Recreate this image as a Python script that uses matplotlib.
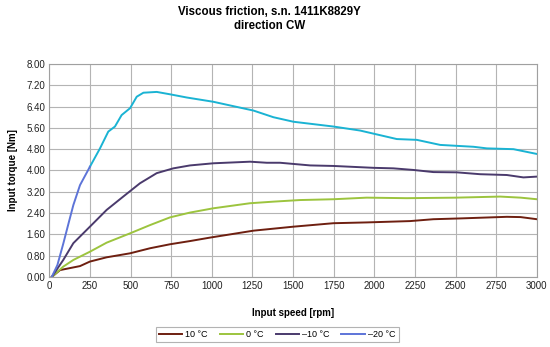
# Viscous friction curves, s.n. 1411K8829Y, direction CW

import matplotlib
matplotlib.use("Agg")
import matplotlib.pyplot as plt
import numpy as np

plt.rcParams["font.family"] = ["Liberation Sans", "DejaVu Sans"]

# readings (rpm, Nm)
speed_10 = [15, 66, 148, 189, 250, 353, 497, 620, 743, 866, 989, 1133, 1256, 1502,
            1748, 1953, 2220, 2363, 2528, 2815, 2900, 3000]
torque_10 = [0.0, 0.26, 0.36, 0.41, 0.58, 0.74, 0.89, 1.08, 1.23, 1.35, 1.48, 1.62, 1.74, 1.89,
             2.02, 2.05, 2.10, 2.17, 2.20, 2.26, 2.25, 2.17]

speed_0 = [15, 86, 148, 250, 353, 497, 620, 743, 866, 1009, 1235, 1379, 1543,
           1748, 1953, 2199, 2500, 2774, 2900, 3000]
torque_0 = [0.0, 0.39, 0.64, 0.95, 1.29, 1.64, 1.95, 2.24, 2.42, 2.58, 2.77, 2.83, 2.89,
            2.92, 2.98, 2.96, 2.98, 3.02, 2.98, 2.92]

speed_m10 = [15, 86, 148, 250, 353, 455, 558, 661, 763, 866, 1009, 1235, 1338, 1420,
             1605, 1748, 1994, 2117, 2240, 2363, 2507, 2651, 2815, 2917, 3000]
torque_m10 = [0.0, 0.64, 1.27, 1.89, 2.52, 3.02, 3.52, 3.90, 4.08, 4.19, 4.27, 4.33, 4.29, 4.29,
              4.19, 4.17, 4.10, 4.08, 4.02, 3.94, 3.93, 3.86, 3.83, 3.74, 3.77]

speed_m20 = [15, 50, 86, 120, 148, 189, 250, 312, 363, 404, 445, 497, 538, 579, 661, 743, 846,
             1009, 1256, 1379, 1502, 1748, 1912, 2138, 2261, 2405, 2610, 2692, 2856, 3000]
torque_m20 = [0.0, 0.45, 1.25, 2.05, 2.7, 3.45, 4.14, 4.83, 5.46, 5.65, 6.08, 6.34, 6.77, 6.92, 6.95,
              6.86, 6.74, 6.58, 6.25, 6.00, 5.83, 5.65, 5.50, 5.18, 5.15, 4.96, 4.89, 4.83, 4.80, 4.62]

labels = ["10 °C", "0 °C", "\u201310 °C", "\u201320 °C"]
colors = ["#6e1f10", "#9cc43e", "#4a3a6c", "#5d74d8"]
cyan = "#1ab3d3"

x_ticks = list(range(0, 3001, 250))
y_ticks = [round(0.8 * i, 2) for i in range(11)]

fig = plt.figure(figsize=(5.5, 3.47), dpi=100)
ax = fig.add_axes([0.0896, 0.2017, 0.8866, 0.614])

ax.plot(speed_10, torque_10, color=colors[0], lw=1.4, label=labels[0])
ax.plot(speed_0, torque_0, color=colors[1], lw=1.4, label=labels[1])
ax.plot(speed_m10, torque_m10, color=colors[2], lw=1.4, label=labels[2])
# -20 line: blue at the steep start, cyan afterwards (as in original)
ax.plot(speed_m20[6:], torque_m20[6:], color=cyan, lw=1.4)
ax.plot(speed_m20[:7], torque_m20[:7], color=colors[3], lw=1.4, label=labels[3])

ax.set_xlim(0, 3000)
ax.set_ylim(0, 8)
ax.set_xticks(x_ticks)
ax.set_yticks(y_ticks)
ax.set_yticklabels([f"{v:.2f}" for v in y_ticks])
ax.tick_params(labelsize=7, length=0, pad=3, colors="#222222")
ax.grid(True, color="#b4b4b4", lw=0.8)
for s in ax.spines.values():
    s.set_color("#a0a0a0")
    s.set_linewidth(0.8)

ax.set_xlabel("Input speed [rpm]", fontsize=7, fontweight="bold", labelpad=12)
ax.set_ylabel("Input torque [Nm]", fontsize=7, fontweight="bold", labelpad=6)

fig.text(0.49, 0.982, "Viscous friction, s.n. 1411K8829Y\ndirection CW",
         ha="center", va="top", fontsize=8.3, fontweight="bold", linespacing=1.15)

leg = fig.legend(loc="center", bbox_to_anchor=(0.504, 0.037), ncol=4, fontsize=6.5,
                 frameon=True, fancybox=False, handlelength=2.6, columnspacing=1.3,
                 handletextpad=0.35, borderpad=0.35)
leg.get_frame().set_edgecolor("#a0a0a0")
leg.get_frame().set_linewidth(0.8)

fig.savefig("out.png", dpi=100)
